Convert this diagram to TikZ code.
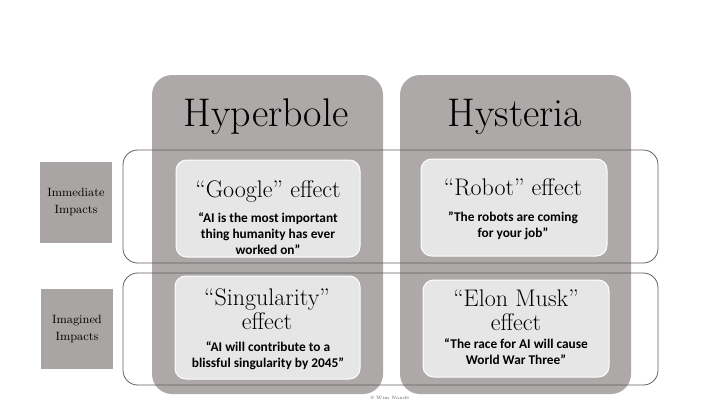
\documentclass[tikz,border=0pt]{standalone}
\usepackage{fontspec}
\newfontfamily\quotefont{Carlito}

\begin{document}
\begin{tikzpicture}[x=0.75pt,y=0.75pt,yscale=-1,xscale=1]
\path (0,0) rectangle (720,405); %set diagram to 720 x 405

%Rounded Rect [id:col_hyperbole] 
\draw [fill={rgb, 255:red, 173; green, 169; blue, 168 }  ,fill opacity=1 ][draw opacity=0][rounded corners=15]  (152,75) rectangle (383,394) ;
%Rounded Rect [id:col_hysteria] 
\draw [fill={rgb, 255:red, 173; green, 169; blue, 168 }  ,fill opacity=1 ][draw opacity=0][rounded corners=15]  (400,75) rectangle (631,394) ;

%Rounded Rect [id:row_immediate] 
\draw [color={rgb, 255:red, 96; green, 96; blue, 96 }  ,draw opacity=1 ][line width=0.6][rounded corners=11]  (123,150) rectangle (658,263) ;
%Rounded Rect [id:row_imagined] 
\draw [color={rgb, 255:red, 96; green, 96; blue, 96 }  ,draw opacity=1 ][line width=0.6][rounded corners=11]  (123,273) rectangle (658,385) ;

%Rounded Rect [id:box_google] 
\draw [color={rgb, 255:red, 255; green, 255; blue, 255 }  ,draw opacity=1 ][fill={rgb, 255:red, 230; green, 230; blue, 230 }  ,fill opacity=1 ][line width=0.75][rounded corners=8]  (176,160) rectangle (360,257) ;
%Rounded Rect [id:box_robot] 
\draw [color={rgb, 255:red, 255; green, 255; blue, 255 }  ,draw opacity=1 ][fill={rgb, 255:red, 230; green, 230; blue, 230 }  ,fill opacity=1 ][line width=0.75][rounded corners=8]  (421,159) rectangle (607,256) ;
%Rounded Rect [id:box_singularity] 
\draw [color={rgb, 255:red, 255; green, 255; blue, 255 }  ,draw opacity=1 ][fill={rgb, 255:red, 230; green, 230; blue, 230 }  ,fill opacity=1 ][line width=0.75][rounded corners=8]  (175,276) rectangle (360,379) ;
%Rounded Rect [id:box_elon] 
\draw [color={rgb, 255:red, 255; green, 255; blue, 255 }  ,draw opacity=1 ][fill={rgb, 255:red, 230; green, 230; blue, 230 }  ,fill opacity=1 ][line width=0.75][rounded corners=8]  (423,280) rectangle (609,377) ;

%Shape: Rectangle [id:lbl_immediate] 
\draw  [draw opacity=0][fill={rgb, 255:red, 169; green, 165; blue, 164 }  ,fill opacity=1 ] (40,162) rectangle (112,243) ;
%Shape: Rectangle [id:lbl_imagined] 
\draw  [draw opacity=0][fill={rgb, 255:red, 169; green, 165; blue, 164 }  ,fill opacity=1 ] (41,289) rectangle (113,369) ;

% Text Node
\draw (266,126) node (hyperbole) [anchor=base][inner sep=0.75pt]  [font=\fontsize{30}{36}\selectfont]  {Hyperbole};
% Text Node
\draw (515,126) node (hysteria) [anchor=base][inner sep=0.75pt]  [font=\fontsize{30}{36}\selectfont]  {Hysteria};
% Text Node
\draw (76,202) node (immediate) [inner sep=0.75pt]  [font=\fontsize{9}{13}\selectfont,align=center]  {Immediate\\Impacts};
% Text Node
\draw (77,329) node (imagined) [inner sep=0.75pt]  [font=\fontsize{9}{13}\selectfont,align=center]  {Imagined\\Impacts};
% Text Node
\draw (268,197) node (google) [anchor=base][inner sep=0.75pt]  [font=\fontsize{18}{17.5}\selectfont]  {``Google'' effect};
% Text Node
\draw (268,234) node (googleq) [inner sep=0.75pt]  [font=\quotefont\bfseries\fontsize{10}{12}\selectfont,align=center]  {“AI is the most important\\thing humanity has ever\\worked on”};
% Text Node
\draw (513,195) node (robot) [anchor=base][inner sep=0.75pt]  [font=\fontsize{18}{17.5}\selectfont]  {``Robot'' effect};
% Text Node
\draw (513,225.5) node (robotq) [inner sep=0.75pt]  [font=\quotefont\bfseries\fontsize{10}{12}\selectfont,align=center]  {”The robots are coming\\for your job”};
% Text Node
\draw (267,329) node (singularity) [anchor=base][inner sep=0.75pt]  [font=\fontsize{18}{17.5}\selectfont,align=center]  {``Singularity''\\effect};
% Text Node
\draw (268,356) node (singularityq) [inner sep=0.75pt]  [font=\quotefont\bfseries\fontsize{10}{12}\selectfont,align=center]  {“AI will contribute to a\\blissful singularity by 2045”};
% Text Node
\draw (516,330) node (elon) [anchor=base][inner sep=0.75pt]  [font=\fontsize{18}{17.5}\selectfont,align=center]  {``Elon Musk''\\effect};
% Text Node
\draw (516,352) node (elonq) [inner sep=0.75pt]  [font=\quotefont\bfseries\fontsize{10}{12}\selectfont,align=center]  {“The race for AI will cause\\World War Three”};
% Text Node
\draw (390,398) node (credit) [inner sep=0.75pt]  [font=\fontsize{3.5}{4}\selectfont,color={rgb, 255:red, 90; green, 90; blue, 90 }]  {© Wim Naudé};

\end{tikzpicture}
\end{document}
